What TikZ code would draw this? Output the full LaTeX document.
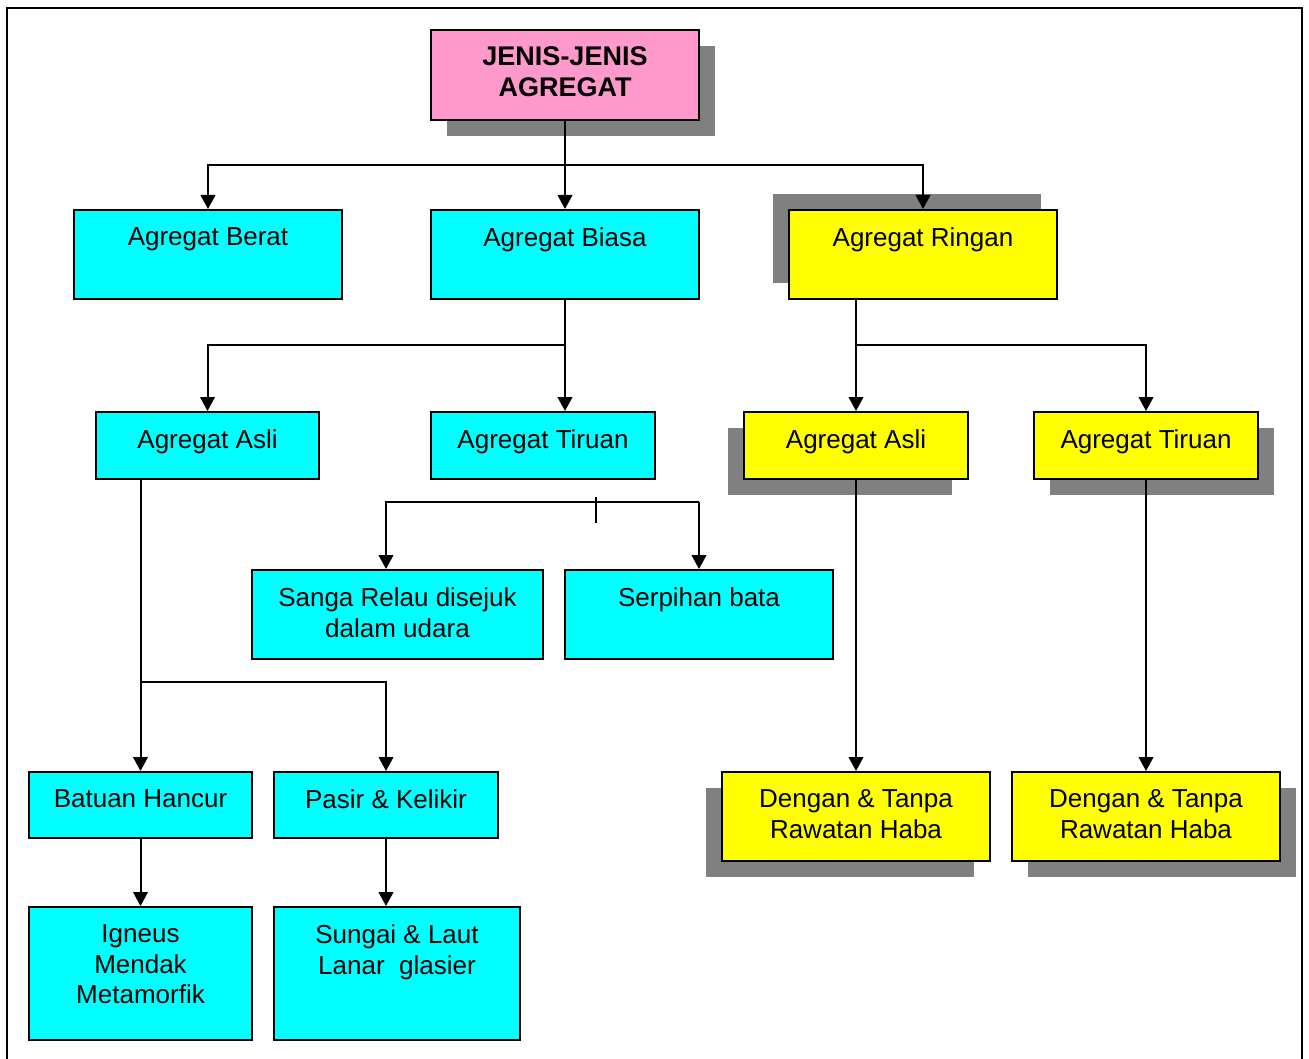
\documentclass[tikz,border=0pt]{standalone}
\usepackage{fontspec}
\setmainfont{Liberation Sans}
\usepackage{xcolor}
\usetikzlibrary{fit,shadows,arrows.meta}

\definecolor{merahjambu}{RGB}{255,153,204}
\definecolor{biru}{RGB}{0,255,255}
\definecolor{kuning}{RGB}{255,255,0}
\definecolor{kelabu}{RGB}{128,128,128}

\tikzset{
  agbox/.style={draw=black, line width=1.5pt, inner sep=0pt},
  cyanbox/.style={agbox, fill=biru},
  yellowbox/.style={agbox, fill=kuning},
  pinkbox/.style={agbox, fill=merahjambu},
  shadowSE/.style={drop shadow={shadow xshift=12pt, shadow yshift=-12pt, fill=kelabu, opacity=1}},
  shadowSW/.style={drop shadow={shadow xshift=-12pt, shadow yshift=-12pt, fill=kelabu, opacity=1}},
  shadowNW/.style={drop shadow={shadow xshift=-12pt, shadow yshift=12pt, fill=kelabu, opacity=1}},
  txt/.style={anchor=north, inner sep=0pt, align=center, font=\fontsize{19.5}{22.9}\selectfont},
  conn/.style={line width=1.5pt},
  arr/.style={conn, -{Triangle[length=10.5pt,width=11pt]}}
}

\begin{document}
\begin{tikzpicture}[x=0.75pt,y=0.75pt,yscale=-1,xscale=1]
\useasboundingbox (0,0) rectangle (1309,1059);

%outer frame
\draw [line width=1.5pt] (7,8) rectangle (1302,1075);

%Boxes
\node [pinkbox, shadowSE, fit={(431,30) (699,120)}] (jenis) {};
\node [cyanbox, fit={(74,210) (342,299)}] (berat) {};
\node [cyanbox, fit={(431,210) (699,299)}] (biasa) {};
\node [yellowbox, shadowNW, fit={(789,210) (1057,299)}] (ringan) {};

\node [cyanbox, fit={(96,412) (319,479)}] (asliA) {};
\node [cyanbox, fit={(431,412) (655,479)}] (tiruanA) {};
\node [yellowbox, shadowSW, fit={(744,412) (968,479)}] (asliB) {};
\node [yellowbox, shadowSE, fit={(1034,412) (1258,479)}] (tiruanB) {};

\node [cyanbox, fit={(252,570) (543,659)}] (sanga) {};
\node [cyanbox, fit={(565,570) (833,659)}] (serpihan) {};

\node [cyanbox, fit={(29,772) (252,838)}] (batuan) {};
\node [cyanbox, fit={(274,772) (498,838)}] (pasir) {};
\node [yellowbox, shadowSW, fit={(722,772) (990,861)}] (denganA) {};
\node [yellowbox, shadowSE, fit={(1012,772) (1280,861)}] (denganB) {};

\node [cyanbox, fit={(29,907) (252,1040)}] (igneus) {};
\node [cyanbox, fit={(274,907) (520,1040)}] (sungai) {};

%Texts
\node [txt, font=\bfseries\fontsize{20.25}{23.4}\selectfont] (jenisT) at (565,46) {JENIS-JENIS\\AGREGAT};
\node [txt] (beratT) at (208,227.4) {Agregat Berat};
\node [txt] (biasaT) at (565,227.4) {Agregat Biasa};
\node [txt] (ringanT) at (923,227.4) {Agregat Ringan};
\node [txt] (asliAT) at (207.5,429.4) {Agregat Asli};
\node [txt] (tiruanAT) at (543,429.4) {Agregat Tiruan};
\node [txt] (asliBT) at (856,429.4) {Agregat Asli};
\node [txt] (tiruanBT) at (1146,429.4) {Agregat Tiruan};
\node [txt] (sangaT) at (397.5,587.4) {Sanga Relau disejuk\\dalam udara};
\node [txt] (serpihanT) at (699,587.4) {Serpihan bata};
\node [txt] (batuanT) at (140.5,789.4) {Batuan Hancur};
\node [txt] (pasirT) at (386,789.4) {Pasir \& Kelikir};
\node [txt] (denganAT) at (856,789.4) {Dengan \& Tanpa\\Rawatan Haba};
\node [txt] (denganBT) at (1146,789.4) {Dengan \& Tanpa\\Rawatan Haba};
\node [txt] (igneusT) at (140.5,924.4) {Igneus\\Mendak\\Metamorfik};
\node [txt] (sungaiT) at (397,924.4) {Sungai \& Laut\\Lanar\ \ glasier};

%Connectors
\coordinate (j1) at (565,165);
\draw [conn] (jenis.south) -- (j1);
\draw [arr] (j1) -| (berat.north);
\draw [arr] (j1) -- (biasa.north);
\draw [arr] (j1) -| (ringan.north);

\coordinate (j2) at (565,345);
\draw [arr] (biasa.south) -- (biasa.south |- tiruanA.north);
\draw [arr] (j2) -| (asliA.north);

\coordinate (j3) at (856,345);
\draw [arr] (asliB.north |- ringan.south) -- (asliB.north);
\draw [arr] (j3) -| (tiruanB.north);
\draw [arr] (asliB.south) -- (denganA.north);
\draw [arr] (tiruanB.south) -- (denganB.north);

\coordinate (j4) at (386,502);
\coordinate (stub) at (596,497);
\draw [arr] (serpihan.north |- j4) -- (j4) -- (j4 |- sanga.north);
\draw [arr] (serpihan.north |- j4) -- (serpihan.north);
\draw [conn] (stub) -- ++(0,26);

\coordinate (j6) at (141,682);
\draw [arr] (asliA.south -| batuan.north) -- (batuan.north);
\draw [arr] (j6) -| (pasir.north);
\draw [arr] (batuan.south) -- (igneus.north);
\draw [arr] (pasir.south) -- (pasir.south |- sungai.north);

\end{tikzpicture}
\end{document}
